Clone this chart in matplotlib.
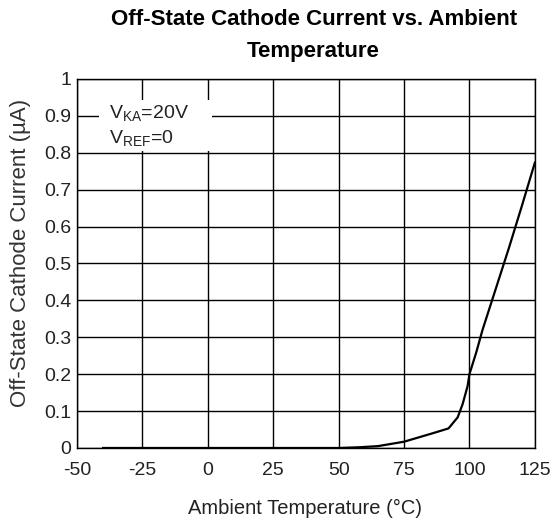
import matplotlib
matplotlib.use('Agg')
import matplotlib.pyplot as plt
from matplotlib.patches import Rectangle

plt.rcParams['font.family'] = ['Liberation Sans', 'DejaVu Sans']
plt.rcParams['axes.unicode_minus'] = False

# Curve
temps = [-40, 0, 25, 50, 58, 65, 75, 86, 92, 95.5, 97.4, 99.3, 100, 102.6, 105, 110, 115, 120, 125]
current = [0.0, 0.0, 0.0, 0.0, 0.002, 0.005, 0.017, 0.04, 0.053, 0.083, 0.119, 0.168, 0.2, 0.259, 0.32, 0.43, 0.54, 0.655, 0.773]

x_ticks = [-50, -25, 0, 25, 50, 75, 100, 125]
y_ticks = [0, 0.1, 0.2, 0.3, 0.4, 0.5, 0.6, 0.7, 0.8, 0.9, 1]
y_labels = ['0', '0.1', '0.2', '0.3', '0.4', '0.5', '0.6', '0.7', '0.8', '0.9', '1']

fig = plt.figure(figsize=(5.55, 5.25), dpi=100)
ax = fig.add_axes([0.1387, 0.1467, 0.825, 0.703])

ax.plot(temps, current, color='black', linewidth=1.6, zorder=3)

ax.set_xlim(-50, 125)
ax.set_ylim(0, 1)
ax.set_xticks(x_ticks)
ax.set_yticks(y_ticks)
ax.set_yticklabels(y_labels)
ax.tick_params(length=0, labelsize=14, labelcolor='#222222')
ax.tick_params(axis='x', pad=10)
ax.tick_params(axis='y', pad=4)
ax.grid(True, color='black', linewidth=1.0)
ax.set_axisbelow(True)
for s in ax.spines.values():
    s.set_linewidth(1.0)

# white patch behind the conditions note
ax.add_patch(Rectangle((-41.5, 0.806), 43.0, 0.137, facecolor='white', edgecolor='none', zorder=2))
ax.text(-37.8, 0.905, 'V$_{\\mathregular{KA}}$=20V', fontsize=14, va='center', ha='left', zorder=4, color='#222222')
ax.text(-37.8, 0.838, 'V$_{\\mathregular{REF}}$=0', fontsize=14, va='center', ha='left', zorder=4, color='#222222')

fig.text(0.55, 0.032, 'Ambient Temperature (°C)', fontsize=14.5, ha='center', va='center', color='#222222')
fig.text(0.037, 1 - 253 / 525, 'Off-State Cathode Current (µA)', fontsize=16, rotation=90,
         ha='center', va='center', color='#333333')

fig.text(0.565, 0.962, 'Off-State Cathode Current vs. Ambient', fontsize=16, fontweight='bold',
         ha='center', va='center')
fig.text(0.565, 0.901, 'Temperature', fontsize=16, fontweight='bold', ha='center', va='center')

fig.savefig('out.png', dpi=100)
